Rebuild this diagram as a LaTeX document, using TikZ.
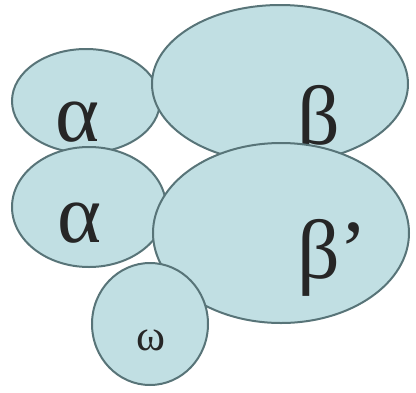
\documentclass[tikz,border=0pt]{standalone}
\usepackage{fontspec}
\setmainfont{Liberation Serif}
\usetikzlibrary{shapes.geometric}
\definecolor{cellfill}{RGB}{193, 223, 227}
\definecolor{celldraw}{RGB}{88, 116, 120}

\begin{document}
\begin{tikzpicture}[x=1pt, y=-1pt,
        cell/.style={ellipse, draw=celldraw, fill=cellfill, line width=2pt, inner sep=0pt},
        lbl/.style={font=\fontsize{84}{84}\selectfont, text=black!85, inner sep=0pt}
      ]
        \useasboundingbox (0,0) rectangle (416,392);
        % upper pair
        \node[cell, minimum width=148pt, minimum height=104pt] (alphaTop) at (86,101) {};
        \node[cell, minimum width=256pt, minimum height=158pt] (betaTop) at (280,84) {};
        \node[lbl] (alphaTopTxt) at (78,122) {α};
        \node[lbl, anchor=west] (betaTopTxt) at (297,124) {β};
        % lower pair
        \node[cell, minimum width=154pt, minimum height=120pt] (alphaBot) at (89,207) {};
        \node[cell, minimum width=256pt, minimum height=180pt] (betaBot) at (281,233) {};
        \node[lbl] (alphaBotTxt) at (80,223) {α};
        \node[lbl, anchor=west] (betaBotTxt) at (297,258) {β’};
        % omega
        \node[cell, minimum width=116pt, minimum height=122pt] (omega) at (150,324) {};
        \node[lbl, font=\fontsize{44}{44}\selectfont] (omegaTxt) at (151,340) {ω};
      \end{tikzpicture}
\end{document}
